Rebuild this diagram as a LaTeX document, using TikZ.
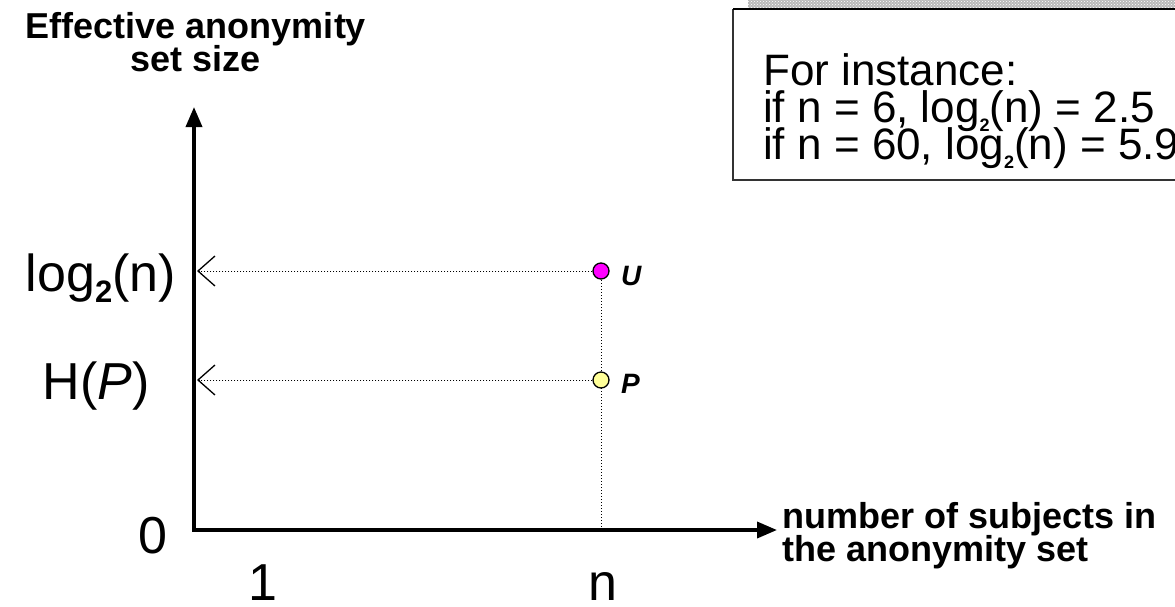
\documentclass[tikz,border=0pt]{standalone}
\usepackage{fontspec}
\setmainfont{Liberation Sans}
\usetikzlibrary{arrows.meta,patterns}
\definecolor{ptyellow}{RGB}{255,255,153}
\definecolor{ptmagenta}{RGB}{255,0,255}
\newcommand{\fsz}[2]{\fontsize{#1}{#2}\selectfont\lineskiplimit=-100pt\relax}
\newcommand{\lsub}[2]{\raisebox{-0.22em}{\fontsize{#1}{#1}\selectfont\bfseries #2}}
\begin{document}
\begin{tikzpicture}[x=1pt,y=-1pt,
  axisline/.style={line width=3.6pt,line join=miter,{Triangle[length=20pt,width=16pt]}-{Triangle[length=20pt,width=16pt]}},
  guide/.style={dotted,line width=1pt},
  guidearrow/.style={guide,-{Straight Barb[length=17pt,width=30pt,line width=1.3pt]}},
  ptdot/.style={circle,draw=black,line width=1.3pt,minimum size=16pt,inner sep=0pt},
  biglabel/.style={inner sep=0pt,font=\fsz{52}{52}},
  boldlabel/.style={inner sep=0pt,font=\fsz{36}{33}\bfseries},
  ptlabel/.style={inner sep=0pt,font=\fsz{28}{28}\bfseries\itshape},
  boxtext/.style={inner sep=0pt,align=left,font=\fsz{44}{37}}]
\useasboundingbox (0,0) rectangle (1175,606);
% example box with shadow
\fill[gray!55] (748,0) rectangle (1175,8);
\fill[pattern=crosshatch dots,pattern color=white] (748,0) rectangle (1175,8);
\draw[line width=1.2pt,draw=black!80] (1180,180) -- (733,180) -- (733,9);
\draw[line width=2.6pt] (733,9) -- (1180,9);
\node[boxtext,anchor=base west] (ex) at (763,159) {For instance:\\if n = 6, log\lsub{18}{2}(n) = 2.5\\if n = 60, log\lsub{18}{2}(n) = 5.9};
% axes
\coordinate (O) at (194,530);
\coordinate (ytip) at (194,107);
\coordinate (xtip) at (777,530);
\draw[axisline] (ytip) -- (O) -- (xtip);
% points
\coordinate (nx) at (601,530);
\coordinate (Ul) at (197,271);
\coordinate (Pl) at (197,380);
\draw[guide] (601,271) -- (nx);
\node[ptdot,fill=ptmagenta] (U) at (601,271) {};
\node[ptdot,fill=ptyellow] (P) at (601,380) {};
\draw[guidearrow] (U) -- (Ul);
\draw[guidearrow] (P) -- (Pl);
\node[ptlabel,anchor=base west] (Ulab) at (621,285) {U};
\node[ptlabel,anchor=base west] (Plab) at (621,393) {P};
% axis labels
\node[biglabel,anchor=base east] (lg) at (176,291) {log\lsub{31}{2}(n)};
\node[biglabel,anchor=base east] (hp) at (150,399) {H(\textit{P})};
\node[biglabel,anchor=base east] (zero) at (168,553) {0};
\node[biglabel,anchor=base] (one) at (263,600) {1};
\node[biglabel,anchor=base] (nn) at (603,600) {n};
\node[boldlabel,align=center,anchor=base] (ylab) at (196,71) {Effective anonymity\\set size};
\node[boldlabel,align=left,anchor=base west] (xlab) at (782,561) {number of subjects in\\the anonymity set};
\end{tikzpicture}
\end{document}
